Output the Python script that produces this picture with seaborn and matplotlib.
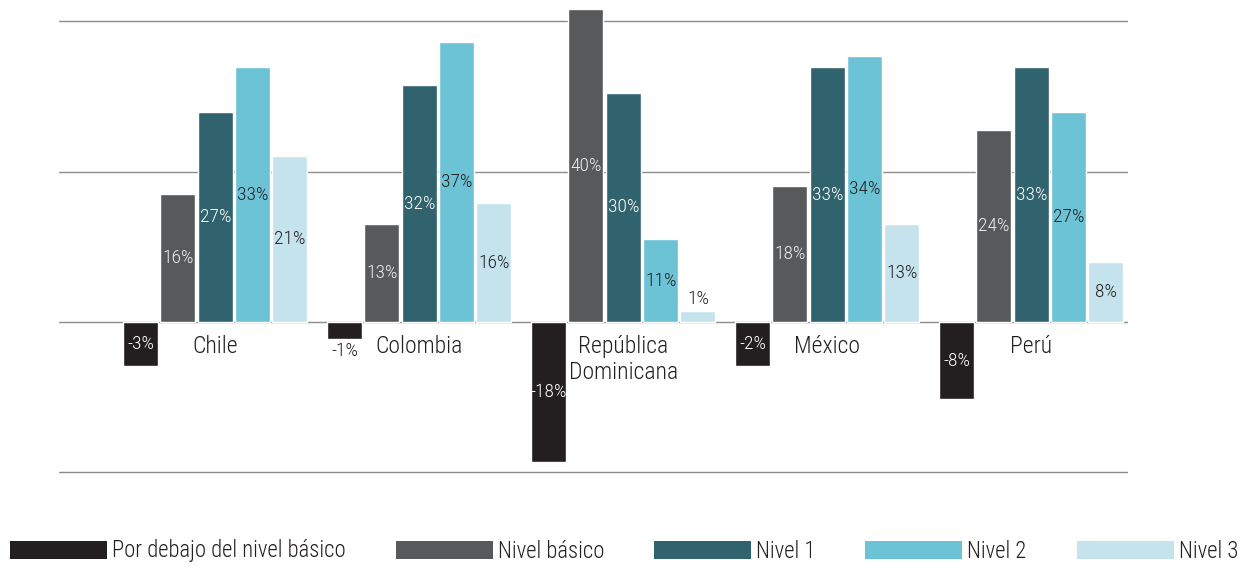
import matplotlib
matplotlib.use("Agg")
import matplotlib.pyplot as plt
import seaborn as sns
import pandas as pd
from matplotlib.patches import Patch
from matplotlib import font_manager

# ---- data ----
paises = ["Chile", "Colombia", "República\nDominicana", "México", "Perú"]
niveles = ["Por debajo del nivel básico", "Nivel básico", "Nivel 1", "Nivel 2", "Nivel 3"]

# bar heights (as drawn)
por_debajo = [-5.8, -2.2, -18.6, -5.8, -10.3]
basico = [17.0, 13.0, 41.6, 18.1, 25.5]
nivel1 = [27.9, 31.5, 30.5, 33.9, 33.9]
nivel2 = [33.9, 37.2, 11.0, 35.4, 27.9]
nivel3 = [22.1, 15.8, 1.5, 13.0, 8.0]

# printed data labels
lab_debajo = ["-3%", "-1%", "-18%", "-2%", "-8%"]
lab_basico = ["16%", "13%", "40%", "18%", "24%"]
lab_n1 = ["27%", "32%", "30%", "33%", "33%"]
lab_n2 = ["33%", "37%", "11%", "34%", "27%"]
lab_n3 = ["21%", "16%", "1%", "13%", "8%"]

colores = ["#231f20", "#58595b", "#31636f", "#6cc3d6", "#c5e3ed"]
color_texto = ["#ffffff", "#eeeeee", "#ffffff", "#231f20", "#231f20"]
DARK = "#231f20"

sns.set_theme(style="white")

# ---- fonts: look for a condensed sans (light weight preferred) ----
def is_cond(f):
    st = f.stretch
    if "Narrow" in f.name or "Condensed" in f.name or "Cond" in f.fname:
        return True
    if isinstance(st, str) and "condensed" in st:
        return True
    if isinstance(st, (int, float)) and st < 500:
        return True
    return False

def wnum(w):
    if isinstance(w, (int, float)):
        return int(w)
    return {"light": 300, "normal": 400, "regular": 400, "book": 400, "medium": 500}.get(str(w).lower(), 700)

pref = ["Liberation Sans Narrow", "Roboto Condensed", "Noto Sans", "Open Sans", "DejaVu Sans", "Roboto"]
found = None
for weight in (300, 400):
    for pname in pref:
        for f in font_manager.fontManager.ttflist:
            if pname in f.name and is_cond(f) and f.style == "normal" and wnum(f.weight) == weight \
                    and "Extra" not in f.fname and "Semi" not in f.fname:
                found = f
                break
        if found:
            break
    if found:
        break

if found is not None:
    fp_path = found.fname
    scale = 1.0
else:
    fp_path = font_manager.findfont(font_manager.FontProperties(family="Liberation Sans"))
    scale = 0.84

plt.rcParams["font.family"] = ["Liberation Sans", "DejaVu Sans"]

def fp(size):
    return font_manager.FontProperties(fname=fp_path, size=size * scale)

series = [por_debajo, basico, nivel1, nivel2, nivel3]
etiquetas = [lab_debajo, lab_basico, lab_n1, lab_n2, lab_n3]

rows = []
for nivel, vals in zip(niveles, series):
    for p, v in zip(paises, vals):
        rows.append({"pais": p, "nivel": nivel, "valor": v})
df = pd.DataFrame(rows)

W, H = 1254, 566
fig = plt.figure(figsize=(W / 100, H / 100), dpi=100)
px_per = 150.4 / 20.0
zero_px = 322.0
ax_top_px, ax_bot_px = 0.0, 480.0
left_px, right_px = 58.7, 1128.0
ax = fig.add_axes([left_px / W, 1 - ax_bot_px / H, (right_px - left_px) / W, (ax_bot_px - ax_top_px) / H])

for y in [-20, 0, 20, 40]:
    ax.axhline(y, color="#8c8c8c", lw=1.0, zorder=0)

sns.barplot(data=df, x="pais", y="valor", hue="nivel", order=paises, hue_order=niveles,
            palette=colores, saturation=1, width=0.915, gap=0.062, errorbar=None,
            legend=False, ax=ax, zorder=2)

ax.set_ylim((zero_px - ax_bot_px) / px_per, (zero_px - ax_top_px) / px_per)
ax.set_xlim((left_px - 215.3) / 204.0, (right_px - 215.3) / 204.0)

for cont, labs, tc in zip(ax.containers, etiquetas, color_texto):
    for patch, lab in zip(cont.patches, labs):
        h = patch.get_height()
        x = patch.get_x() + patch.get_width() / 2
        if abs(h) < 3:
            y = h + (1.6 if h >= 0 else -1.6)
            c = DARK
        else:
            y = h / 2
            c = tc
        ax.text(x, y, lab, ha="center", va="center", fontproperties=fp(14), color=c, zorder=3)

for s in ax.spines.values():
    s.set_visible(False)
ax.spines["bottom"].set_position(("data", 0))
ax.set_yticks([])
ax.tick_params(axis="x", length=0, pad=9.5, labelcolor=DARK)
for t in ax.get_xticklabels():
    t.set_fontproperties(fp(17))
    t.set_linespacing(1.15)
ax.set_xlabel("")
ax.set_ylabel("")

handles = [Patch(facecolor=c, edgecolor="none", label=n) for c, n in zip(colores, niveles)]
fs_px = 16.3 * scale * 100 / 72
leg = fig.legend(handles=handles, ncol=5, loc="center left",
                 bbox_to_anchor=(10 / W, 1 - 551 / H), frameon=False, prop=fp(16.3),
                 handlelength=97 / fs_px, handleheight=19 / fs_px, handletextpad=5 / fs_px,
                 columnspacing=50 / fs_px, borderpad=0, borderaxespad=0)
for t in leg.get_texts():
    t.set_color(DARK)

fig.savefig("out.png", dpi=100)
